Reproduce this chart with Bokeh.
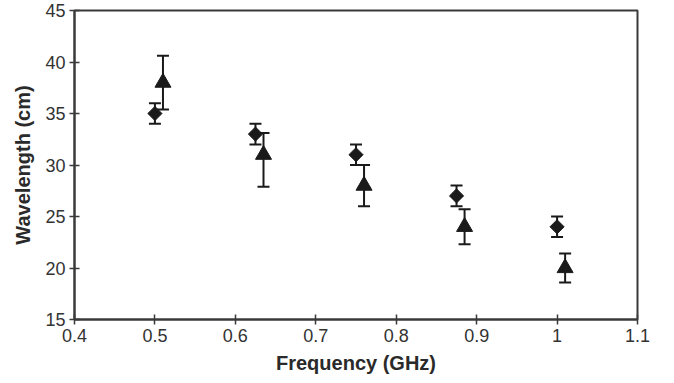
from bokeh.plotting import figure
from bokeh.models import ColumnDataSource, Whisker, TeeHead, Range1d, FixedTicker
from bokeh.embed import file_html
from bokeh.resources import INLINE
import numpy as np

# Data
freq_diamond = [0.5, 0.625, 0.75, 0.875, 1.0]
wl_diamond = [35, 33, 31, 27, 24]
diamond_hi = [36, 34, 32, 28, 25]
diamond_lo = [34, 32, 30, 26, 23]

freq_triangle = [0.51, 0.635, 0.76, 0.885, 1.01]
wl_triangle = [38, 31, 28, 24, 20]
triangle_hi = [40.6, 33.1, 30.0, 25.7, 21.4]
triangle_lo = [35.4, 27.9, 26.0, 22.3, 18.6]

x_ticks = [0.4, 0.5, 0.6, 0.7, 0.8, 0.9, 1.0, 1.1]
x_tick_labels = ["0.4", "0.5", "0.6", "0.7", "0.8", "0.9", "1", "1.1"]
y_ticks = [15, 20, 25, 30, 35, 40, 45]

FONT = "Liberation Sans"
INK = "#1a1a1a"
AXIS = "#3a3a3a"

p = figure(width=674, height=383, output_backend="svg", toolbar_location=None,
           x_range=Range1d(0.4, 1.1), y_range=Range1d(15, 45),
           min_border_left=74, min_border_right=37, min_border_top=10, min_border_bottom=64)

p.background_fill_color = "white"
p.border_fill_color = "white"
p.grid.visible = False
p.outline_line_color = AXIS
p.outline_line_width = 2

src_d = ColumnDataSource(dict(x=freq_diamond, y=wl_diamond, hi=diamond_hi, lo=diamond_lo))
src_t = ColumnDataSource(dict(x=freq_triangle, y=wl_triangle, hi=triangle_hi, lo=triangle_lo))

for src in (src_d, src_t):
    w = Whisker(source=src, base="x", upper="hi", lower="lo", dimension="height",
                line_color=INK, line_width=2,
                upper_head=TeeHead(size=12, line_color=INK, line_width=2),
                lower_head=TeeHead(size=12, line_color=INK, line_width=2))
    p.add_layout(w)

p.scatter("x", "y", source=src_d, marker="square", size=10, angle=np.pi / 4,
          fill_color=INK, line_color=INK)
p.scatter("x", "y", source=src_t, marker="triangle", size=16,
          fill_color=INK, line_color=INK)

# axes
p.xaxis.ticker = FixedTicker(ticks=x_ticks)
p.xaxis.major_label_overrides = {t: l for t, l in zip(x_ticks, x_tick_labels)}
p.yaxis.ticker = FixedTicker(ticks=y_ticks)
p.xaxis.axis_label = "Frequency (GHz)"
p.yaxis.axis_label = "Wavelength (cm)"

for ax in (p.xaxis[0], p.yaxis[0]):
    ax.axis_line_color = AXIS
    ax.axis_line_width = 2
    ax.major_tick_line_color = AXIS
    ax.major_tick_line_width = 1.5
    ax.major_tick_in = 5
    ax.major_tick_out = 5
    ax.minor_tick_line_color = None
    ax.major_label_text_font = FONT
    ax.major_label_text_font_size = "18px"
    ax.major_label_text_color = "#333333"
    ax.axis_label_text_font = FONT
    ax.axis_label_text_font_size = "20px"
    ax.axis_label_text_font_style = "bold"
    ax.axis_label_text_color = "#2a2a2a"

p.xaxis.major_label_standoff = 4
p.xaxis.axis_label_standoff = 7
p.yaxis.major_label_standoff = 4
p.yaxis.axis_label_standoff = 8

open("out.html", "w").write(file_html(p, INLINE))
